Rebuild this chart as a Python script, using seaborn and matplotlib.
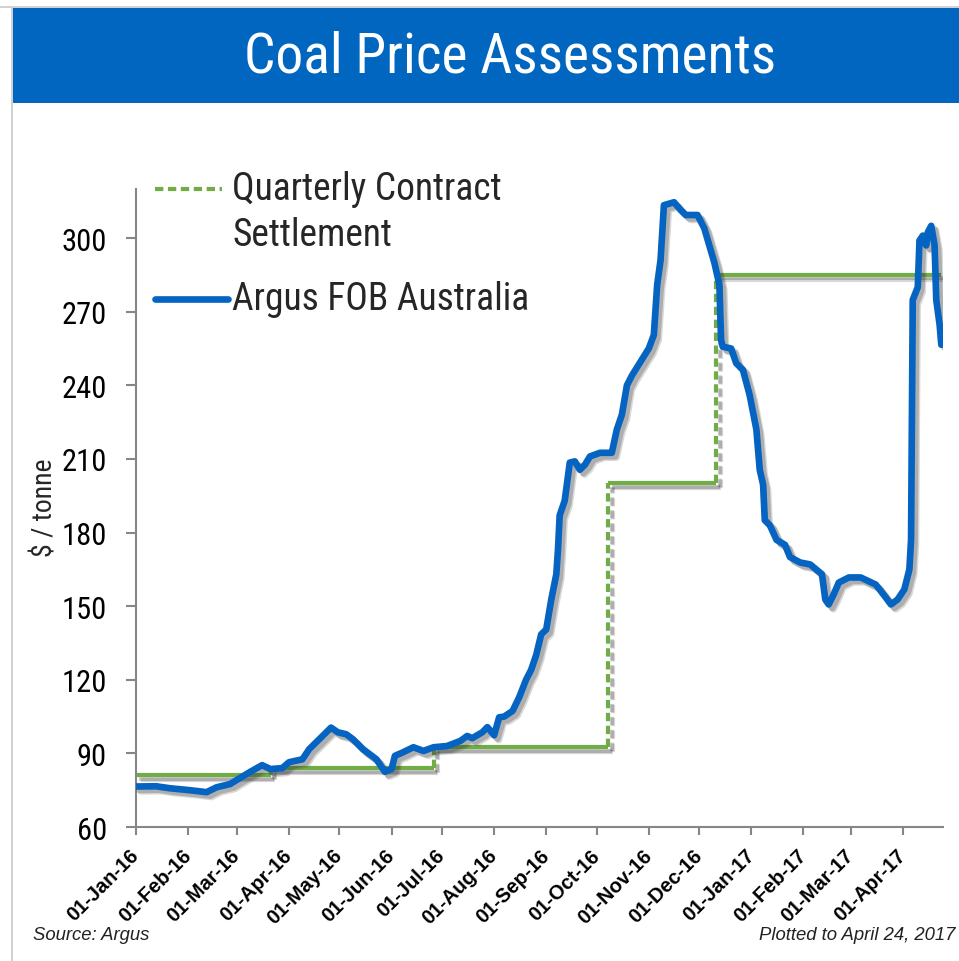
import matplotlib
matplotlib.use("Agg")
import matplotlib.pyplot as plt
import seaborn as sns
import pandas as pd
from matplotlib import font_manager
from matplotlib import patheffects as pe
from matplotlib.lines import Line2D
from matplotlib.patches import Rectangle

# ---------------- data ----------------
argus_dates = [
    "2016-01-01", "2016-01-13", "2016-01-21", "2016-02-02", "2016-02-12", "2016-02-18",
    "2016-02-26", "2016-03-09", "2016-03-16", "2016-03-21", "2016-03-28", "2016-04-01",
    "2016-04-09", "2016-04-13", "2016-04-21", "2016-04-26", "2016-04-30", "2016-05-05",
    "2016-05-09", "2016-05-15", "2016-05-23", "2016-05-28", "2016-06-01", "2016-06-03",
    "2016-06-08", "2016-06-14", "2016-06-20", "2016-06-26", "2016-07-04", "2016-07-12",
    "2016-07-16", "2016-07-19", "2016-07-25", "2016-07-28", "2016-08-01", "2016-08-04",
    "2016-08-07", "2016-08-12", "2016-08-16", "2016-08-20", "2016-08-23", "2016-08-26",
    "2016-08-29", "2016-09-01", "2016-09-04", "2016-09-07", "2016-09-08", "2016-09-09",
    "2016-09-12", "2016-09-15", "2016-09-18", "2016-09-21", "2016-09-24", "2016-09-27",
    "2016-10-03", "2016-10-10", "2016-10-13", "2016-10-16", "2016-10-19", "2016-10-22",
    "2016-10-27", "2016-11-01", "2016-11-04", "2016-11-06", "2016-11-08", "2016-11-10",
    "2016-11-16", "2016-11-20", "2016-11-23", "2016-11-30", "2016-12-04", "2016-12-07",
    "2016-12-10", "2016-12-13", "2016-12-14", "2016-12-15", "2016-12-20", "2016-12-23",
    "2016-12-27", "2016-12-31", "2017-01-04", "2017-01-06", "2017-01-08", "2017-01-09",
    "2017-01-12", "2017-01-16", "2017-01-21", "2017-01-24", "2017-01-30", "2017-02-05",
    "2017-02-12", "2017-02-14", "2017-02-16", "2017-02-19", "2017-02-22", "2017-02-28",
    "2017-03-07", "2017-03-16", "2017-03-22", "2017-03-25", "2017-03-29", "2017-04-02",
    "2017-04-05", "2017-04-06", "2017-04-07", "2017-04-10", "2017-04-11", "2017-04-13",
    "2017-04-15", "2017-04-16", "2017-04-18", "2017-04-20", "2017-04-21", "2017-04-23",
    "2017-04-24",
]
argus_values = [
    76.5, 76.6, 75.8, 75.0, 74.2, 76.2,
    77.5, 82.5, 85.2, 83.6, 84.0, 86.4,
    87.6, 91.7, 97.1, 100.5, 98.6, 97.8,
    95.8, 91.7, 87.6, 82.5, 83.6, 89.0,
    90.5, 92.5, 91.0, 92.5, 93.0, 95.1,
    97.1, 96.2, 98.6, 100.7, 97.4, 104.7,
    105.0, 107.3, 113.0, 120.0, 124.0, 130.0,
    138.5, 140.5, 152.7, 163.0, 173.0, 187.0,
    193.0, 208.5, 209.0, 205.6, 207.6, 211.0,
    212.5, 212.5, 222.0, 228.0, 240.0, 244.0,
    249.5, 255.0, 260.5, 281.0, 291.0, 313.4,
    314.6, 311.4, 309.4, 309.4, 304.0, 297.0,
    290.0, 281.0, 258.5, 255.7, 255.0, 249.0,
    246.3, 236.0, 222.0, 205.6, 199.5, 185.0,
    183.0, 177.0, 175.0, 170.0, 167.8, 167.0,
    163.0, 152.7, 150.7, 154.8, 159.6, 161.7,
    161.7, 158.8, 153.5, 150.7, 152.7, 156.8,
    165.0, 177.0, 274.8, 280.0, 299.0, 301.0,
    297.0, 302.4, 305.0, 297.0, 274.8, 264.6,
    256.5,
]

qcs_start = ["2016-01-01", "2016-03-21", "2016-06-26", "2016-10-08", "2016-12-11"]
qcs_end = ["2016-03-21", "2016-06-26", "2016-10-08", "2016-12-11", "2017-04-24"]
qcs_values = [81.0, 84.0, 92.5, 200.0, 285.0]

month_ticks = pd.date_range("2016-01-01", "2017-04-01", freq="MS")
tick_labels = [d.strftime("%d-%b-%y") for d in month_ticks]
y_ticks = [60, 90, 120, 150, 180, 210, 240, 270, 300]

title_text = "Coal Price Assessments"
legend_labels = ["Quarterly Contract\nSettlement", "Argus FOB Australia"]
y_label = "$ / tonne"
source_text = "Source: Argus"
plotted_text = "Plotted to April 24, 2017"

# ---------------- style ----------------
sns.set_theme(style="white")
names = {f.name for f in font_manager.fontManager.ttflist}
narrow = None
for cand in ["Liberation Sans Narrow", "Arial Narrow", "Roboto Condensed",
             "Archivo Narrow"]:
    if cand in names:
        narrow = cand
        break
base = "Liberation Sans"
plt.rcParams["font.family"] = [base, "DejaVu Sans"]

if narrow is not None:
    nfam = [narrow, base, "DejaVu Sans"]
    title_fs, leg_fs, ytick_fs, ylab_fs = 40, 27, 22, 20
else:
    nfam = [base, "DejaVu Sans"]
    title_fs, leg_fs, ytick_fs, ylab_fs = 36, 25, 20, 17

BLUE = "#0563C1"
GREEN = "#70AD47"
HEADER = "#0066C0"
SPINE = "#868686"

W, H = 959, 962
fig = plt.figure(figsize=(W / 100, H / 100), dpi=100)
fig.patch.set_facecolor("white")

def fx(px):
    return px / W

def fy(py):
    return 1 - py / H

# header and frame
fig.add_artist(Rectangle((fx(13), fy(104)), 1 - fx(13), 95 / H, transform=fig.transFigure,
                         facecolor=HEADER, edgecolor="none", zorder=0))
fig.add_artist(Line2D([fx(12), fx(12)], [fy(9), 0], transform=fig.transFigure,
                      color="#C8C8C8", lw=1.2))
fig.add_artist(Line2D([0, 1], [fy(8), fy(8)], transform=fig.transFigure,
                      color="#C8C8C8", lw=1.2))
fig.text(fx(510), fy(57), title_text, color="white", ha="center", va="center",
         fontsize=title_fs, family=nfam)

ax = fig.add_axes([fx(136), fy(828), fx(943) - fx(136), (828 - 190) / H])
ax.set_facecolor("white")

shadow = [pe.SimpleLineShadow(offset=(3.5, -3.5), shadow_color="#303030", alpha=0.18),
          pe.SimpleLineShadow(offset=(2.5, -2.5), shadow_color="#303030", alpha=0.25),
          pe.Normal()]

# quarterly contract settlement: horizontal steps solid, vertical jumps dashed
qs = pd.to_datetime(qcs_start)
qe = pd.to_datetime(qcs_end)
for i in range(len(qcs_values)):
    seg = pd.DataFrame({"date": [qs[i], qe[i]], "price": [qcs_values[i]] * 2})
    sns.lineplot(data=seg, x="date", y="price", ax=ax, color=GREEN, linewidth=3.0,
                 solid_capstyle="butt", path_effects=shadow, zorder=2)
for i in range(len(qcs_values) - 1):
    seg = pd.DataFrame({"date": [qe[i], qe[i]], "price": [qcs_values[i], qcs_values[i + 1]]})
    ax.plot(seg["date"], seg["price"], color=GREEN, linewidth=3.0,
            linestyle=(0, (2.0, 1.1)), path_effects=shadow, zorder=2)

# Argus FOB Australia
df = pd.DataFrame({"date": pd.to_datetime(argus_dates), "price": argus_values})
sns.lineplot(data=df, x="date", y="price", ax=ax, color=BLUE, linewidth=4.8,
             solid_joinstyle="round", solid_capstyle="round",
             path_effects=shadow, zorder=3)

ax.set_xlim(pd.Timestamp("2016-01-01"), pd.Timestamp("2017-04-25"))
ax.set_ylim(60, 320)
ax.set_yticks(y_ticks)
ax.set_xticks(month_ticks)
ax.set_xticklabels(tick_labels, rotation=45, ha="right", va="center",
                   rotation_mode="anchor", fontsize=14.5, fontweight="bold")
for lab in ax.get_yticklabels():
    lab.set_fontsize(ytick_fs)
    lab.set_family(nfam)
ax.set_xlabel("")
ax.set_ylabel("")
ax.grid(False)
sns.despine(ax=ax)
for s in ("left", "bottom"):
    ax.spines[s].set_color(SPINE)
    ax.spines[s].set_linewidth(1.5)
ax.tick_params(axis="y", left=True, direction="out", length=7, width=1.5,
               color=SPINE, pad=14, labelcolor="black")
ax.tick_params(axis="x", bottom=True, direction="out", length=6, width=1.5,
               color=SPINE, pad=12, labelcolor="black")

fig.text(fx(45), fy(508), y_label, rotation=90, ha="center", va="center",
         fontsize=ylab_fs, family=nfam)

# legend drawn by hand
fig.add_artist(Line2D([fx(155), fx(222)], [fy(190), fy(190)], transform=fig.transFigure,
                      color=GREEN, lw=3.0, linestyle=(0, (2.0, 1.1))))
fig.add_artist(Line2D([fx(155), fx(228)], [fy(300), fy(300)], transform=fig.transFigure,
                      color=BLUE, lw=4.8, solid_capstyle="round"))
fig.text(fx(232), fy(190), "Quarterly Contract", ha="left", va="center",
         fontsize=leg_fs, family=nfam)
fig.text(fx(232), fy(235), "Settlement", ha="left", va="center",
         fontsize=leg_fs, family=nfam)
fig.text(fx(232), fy(300), legend_labels[1], ha="left", va="center",
         fontsize=leg_fs, family=nfam)

fig.text(fx(33), fy(936), source_text, ha="left", va="center", fontsize=13.3,
         style="italic", color="#222222")
fig.text(fx(955), fy(936), plotted_text, ha="right", va="center", fontsize=13.3,
         style="italic", color="#222222")

fig.savefig("out.png", dpi=100)
